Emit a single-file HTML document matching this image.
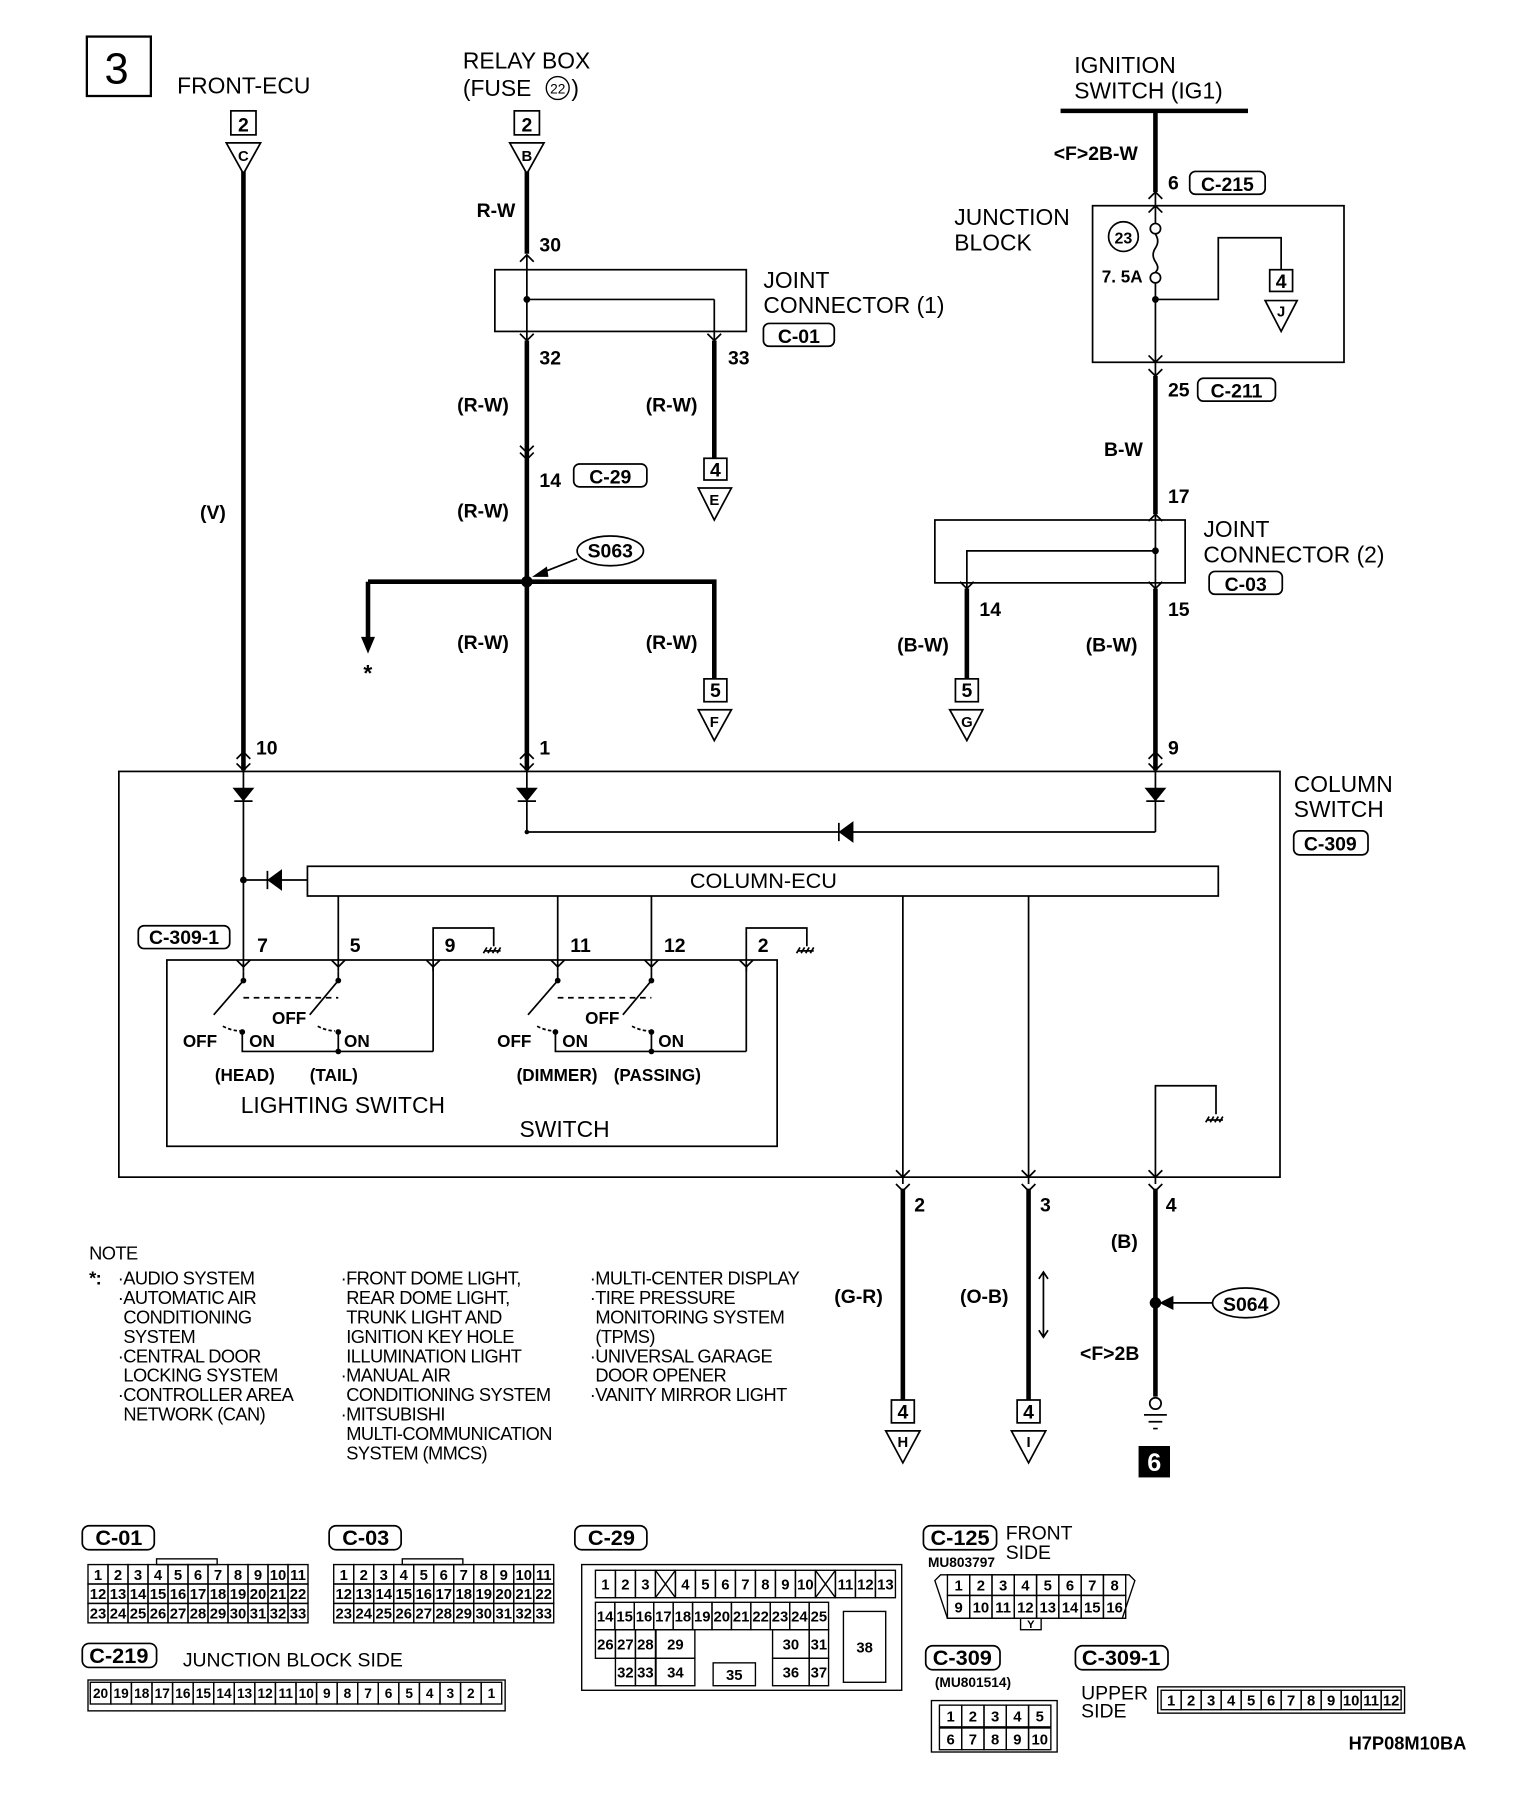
<!DOCTYPE html>
<html><head><meta charset="utf-8">
<style>
html,body{margin:0;padding:0;background:#fff;}
svg{display:block;}
text{font-family:"Liberation Sans",sans-serif;fill:#000;}
.b{font-weight:bold;}
.n{font-family:"Liberation Sans Narrow","Liberation Sans",sans-serif;font-weight:bold;}
</style></head><body>
<svg id="s" xmlns="http://www.w3.org/2000/svg" width="1520" height="1798" viewBox="0 0 1330 1573.25">
<g stroke="#000" fill="none" stroke-width="1.5">
<rect x="76" y="32" width="56" height="52" stroke-width="2"/>
<rect x="202" y="97" width="22" height="21"/>
<polygon points="198,125 228,125 213,152"/>
<line x1="213" y1="150" x2="213" y2="674" stroke-width="4"/>
<rect x="450" y="97" width="22" height="21"/>
<polygon points="446,125 476,125 461,152"/>
<line x1="461" y1="150" x2="461" y2="222" stroke-width="4"/>
<polyline points="455,229 461,223 467,229"/>
<line x1="461" y1="223" x2="461" y2="298"/>
<rect x="433" y="236" width="220" height="54"/>
<line x1="461" y1="262" x2="625" y2="262"/><line x1="625" y1="262" x2="625" y2="298"/>
<polyline points="455,292 461,298 467,292"/><polyline points="619,292 625,298 631,292"/>
<line x1="461" y1="298" x2="461" y2="674" stroke-width="4"/>
<line x1="625" y1="298" x2="625" y2="401" stroke-width="4"/>
<polyline points="455,390 461,396 467,390"/><polyline points="455,396 461,402 467,396"/>
<rect x="616" y="401" width="20" height="19"/>
<polygon points="611,427 640,427 625,455"/>
<path d="M322,509 H625 V594" stroke-width="4"/>
<line x1="322" y1="509" x2="322" y2="560" stroke-width="4"/>
<polygon points="317,558 327,558 322,570" fill="#000"/>
<rect x="616" y="594" width="20" height="20"/>
<polygon points="611,621 640,621 625,648"/>
<ellipse cx="534" cy="482" rx="29" ry="13"/>
<line x1="505" y1="489" x2="472" y2="502"/>
<polygon points="468,504 478,497 479,504" fill="#000"/>
<line x1="928" y1="97" x2="1092" y2="97" stroke-width="4"/>
<line x1="1011" y1="97" x2="1011" y2="168" stroke-width="4"/>
<polyline points="1005,174 1011,168 1017,174"/><polyline points="1005,186 1011,180 1017,186"/>
<line x1="1011" y1="168" x2="1011" y2="196"/>
<rect x="956" y="180" width="220" height="137"/>
<circle cx="1011" cy="200" r="4.5"/><circle cx="1011" cy="243" r="4.5"/>
<path d="M1011,205 q4,6 0,12 q-4,6 0,12 q4,6 0,9"/>
<line x1="1011" y1="248" x2="1011" y2="336"/>
<path d="M1011,262 H1066 V208 H1121 V236"/>
<rect x="1111" y="236" width="20" height="19"/>
<polygon points="1107,263 1135,263 1121,290"/>
<circle cx="983" cy="207" r="13"/>
<polyline points="1005,311 1011,317 1017,311"/><polyline points="1005,323 1011,329 1017,323"/>
<line x1="1011" y1="329" x2="1011" y2="450" stroke-width="4"/>
<polyline points="1005,456 1011,450 1017,456"/>
<line x1="1011" y1="450" x2="1011" y2="515"/>
<rect x="818" y="455" width="219" height="55"/>
<path d="M1011,482 H846 V515"/>
<polyline points="840,509 846,515 852,509"/><polyline points="1005,509 1011,515 1017,509"/>
<line x1="846" y1="515" x2="846" y2="594" stroke-width="4"/>
<rect x="836" y="594" width="20" height="20"/>
<polygon points="831,621 860,621 846,648"/>
<line x1="1011" y1="515" x2="1011" y2="674" stroke-width="4"/>
<polyline points="207,664 213,658 219,664"/><polyline points="455,664 461,658 467,664"/><polyline points="1005,664 1011,658 1017,664"/>
<rect x="104" y="675" width="1016" height="355"/>
<polyline points="207,668 213,674 219,668"/><polyline points="455,668 461,674 467,668"/><polyline points="1005,668 1011,674 1017,668"/>
<line x1="213" y1="674" x2="213" y2="850"/>
<line x1="461" y1="674" x2="461" y2="728"/>
<line x1="1011" y1="674" x2="1011" y2="728"/>
<polygon points="205,690 221,690 213,700" fill="#000"/><line x1="205" y1="701" x2="221" y2="701"/>
<polygon points="453,690 469,690 461,700" fill="#000"/><line x1="453" y1="701" x2="469" y2="701"/>
<polygon points="1003,690 1019,690 1011,700" fill="#000"/><line x1="1003" y1="701" x2="1019" y2="701"/>
<line x1="461" y1="728" x2="1011" y2="728"/>
<polygon points="746,720 746,736 735,728" fill="#000"/><line x1="734" y1="720" x2="734" y2="736"/>
<rect x="269" y="758" width="797" height="26"/>
<line x1="213" y1="770" x2="269" y2="770"/>
<polygon points="246,762 246,778 235,770" fill="#000"/><line x1="234" y1="762" x2="234" y2="778"/>
<line x1="296" y1="784" x2="296" y2="850"/>
<line x1="488" y1="784" x2="488" y2="850"/>
<line x1="570" y1="784" x2="570" y2="850"/>
<line x1="790" y1="784" x2="790" y2="1036"/>
<line x1="900" y1="784" x2="900" y2="1036"/>
<rect x="121" y="810" width="80" height="20" rx="5"/>
<path d="M379,850 V812 H432 V828"/><path d="M653,850 V812 H706 V828"/>
<path d="M424,832 h14 M426,829 l-3,5 M430,829 l-3,5 M434,829 l-3,5 M438,829 l-3,5"/>
<path d="M698,832 h14 M700,829 l-3,5 M704,829 l-3,5 M708,829 l-3,5 M712,829 l-3,5"/>
<rect x="146" y="840" width="534" height="163"/>
<polyline points="207,840 213,846 219,840"/><polyline points="290,840 296,846 302,840"/><polyline points="373,840 379,846 385,840"/>
<polyline points="482,840 488,846 494,840"/><polyline points="564,840 570,846 576,840"/><polyline points="647,840 653,846 659,840"/>
<line x1="379" y1="846" x2="379" y2="920"/><line x1="653" y1="846" x2="653" y2="920"/>
<line x1="213" y1="850" x2="213" y2="858"/><line x1="296" y1="850" x2="296" y2="858"/>
<line x1="488" y1="850" x2="488" y2="858"/><line x1="570" y1="850" x2="570" y2="858"/>
<line x1="213" y1="858" x2="187" y2="888"/><line x1="296" y1="858" x2="271" y2="888"/>
<line x1="488" y1="858" x2="462" y2="888"/><line x1="570" y1="858" x2="545" y2="888"/>
<line x1="213" y1="873" x2="296" y2="873" stroke-dasharray="5,4"/>
<line x1="488" y1="873" x2="570" y2="873" stroke-dasharray="5,4"/>
<path d="M212,903 V920 H379 M296,903 V920 M570,903 V920 M486,903 V920 H653" />
<path d="M195,898 q8,4 15,4 M278,898 q8,4 15,4 M470,898 q8,4 15,4 M553,898 q8,4 15,4" stroke-dasharray="3,2"/>
<g fill="#000" stroke="none">
<circle cx="213" cy="858" r="2.5"/><circle cx="296" cy="858" r="2.5"/><circle cx="488" cy="858" r="2.5"/><circle cx="570" cy="858" r="2.5"/>
<circle cx="212" cy="903" r="2.5"/><circle cx="296" cy="903" r="2.5"/><circle cx="486" cy="903" r="2.5"/><circle cx="570" cy="903" r="2.5"/>
<circle cx="296" cy="920" r="2.5"/><circle cx="570" cy="920" r="2.5"/>
<circle cx="461" cy="262" r="3"/><circle cx="461" cy="509" r="5"/><circle cx="1011" cy="262" r="3"/><circle cx="1011" cy="482" r="3"/>
<circle cx="213" cy="770" r="3"/><circle cx="461" cy="728" r="2"/><circle cx="1011" cy="1140" r="5"/>
</g>
<path d="M1011,1036 V950 H1064 V975"/>
<path d="M1056,980 h14 M1058,977 l-3,5 M1062,977 l-3,5 M1066,977 l-3,5 M1070,977 l-3,5"/>
<polyline points="784,1024 790,1030 796,1024"/><polyline points="894,1024 900,1030 906,1024"/><polyline points="1005,1024 1011,1030 1017,1024"/>
<polyline points="784,1036 790,1042 796,1036"/><polyline points="894,1036 900,1042 906,1036"/><polyline points="1005,1036 1011,1042 1017,1036"/>
<line x1="790" y1="1040" x2="790" y2="1225" stroke-width="4"/>
<line x1="900" y1="1040" x2="900" y2="1225" stroke-width="4"/>
<line x1="1011" y1="1040" x2="1011" y2="1222" stroke-width="4"/>
<rect x="780" y="1225" width="20" height="20"/><polygon points="775,1252 805,1252 790,1280"/>
<rect x="890" y="1225" width="20" height="20"/><polygon points="885,1252 915,1252 900,1280"/>
<path d="M913,1113 V1170 M909,1119 l4,-6 l4,6 M909,1164 l4,6 l4,-6"/>
<ellipse cx="1090" cy="1140" rx="29" ry="13"/>
<line x1="1061" y1="1140" x2="1022" y2="1140"/><polygon points="1016,1140 1026,1135 1026,1145" fill="#000"/>
<circle cx="1011" cy="1228" r="5"/>
<path d="M1001,1238 h20 M1005,1244 h12 M1009,1250 h4"/>
<rect x="997" y="1266" width="26" height="26" fill="#000"/>
<rect x="72" y="1335" width="63" height="21" rx="6"/>
<rect x="288" y="1335" width="63" height="21" rx="6"/>
<rect x="503" y="1335" width="63" height="21" rx="6"/>
<rect x="72" y="1438" width="65" height="21" rx="6"/>
<rect x="808" y="1335" width="64" height="21" rx="6"/>
<rect x="810" y="1440" width="65" height="21" rx="6"/>
<rect x="941" y="1440" width="81" height="21" rx="6"/>
<rect x="668" y="283" width="62" height="20" rx="5"/>
<rect x="1041" y="150" width="66" height="20" rx="5"/>
<rect x="1048" y="331" width="68" height="20" rx="5"/>
<rect x="1058" y="500" width="64" height="20" rx="5"/>
<rect x="502" y="406" width="64" height="20" rx="5"/>
<rect x="1132" y="727" width="65" height="21" rx="5"/>
</g>
<g id="grids" stroke="#000" fill="none" stroke-width="1.2"></g>
<g>
<text x="102" y="73" font-size="38" text-anchor="middle">3</text>
<text x="155" y="82" font-size="20">FRONT-ECU</text>
<text x="405" y="60" font-size="20">RELAY BOX</text>
<text x="405" y="84" font-size="20">(FUSE</text>
<circle cx="488" cy="77" r="10" fill="none" stroke="#000" stroke-width="1.2"/>
<text x="488" y="82" font-size="12" text-anchor="middle">22</text>
<text x="500" y="84" font-size="20">)</text>
<text x="940" y="64" font-size="20">IGNITION</text>
<text x="940" y="86" font-size="20">SWITCH (IG1)</text>
<g class="n" font-size="17">
<text x="213" y="115" text-anchor="middle" class="n">2</text>
<text x="213" y="141" text-anchor="middle" font-size="13" class="n">C</text>
<text x="461" y="115" text-anchor="middle" class="n">2</text>
<text x="461" y="141" text-anchor="middle" font-size="13" class="n">B</text>
<text x="417" y="190" class="n">R-W</text>
<text x="472" y="220" class="n">30</text>
<text x="472" y="319" class="n">32</text>
<text x="637" y="319" class="n">33</text>
<text x="400" y="360" class="n">(R-W)</text>
<text x="565" y="360" class="n">(R-W)</text>
<text x="472" y="426" class="n">14</text>
<text x="534" y="423" text-anchor="middle" class="n">C-29</text>
<text x="626" y="417" text-anchor="middle" class="n">4</text>
<text x="625" y="442" text-anchor="middle" font-size="13" class="n">E</text>
<text x="175" y="454" class="n">(V)</text>
<text x="400" y="453" class="n">(R-W)</text>
<text x="534" y="488" text-anchor="middle" class="n">S063</text>
<text x="318" y="596" font-size="20" class="n">*</text>
<text x="400" y="568" class="n">(R-W)</text>
<text x="565" y="568" class="n">(R-W)</text>
<text x="626" y="610" text-anchor="middle" class="n">5</text>
<text x="625" y="636" text-anchor="middle" font-size="13" class="n">F</text>
<text x="224" y="660" class="n">10</text>
<text x="472" y="660" class="n">1</text>
<text x="922" y="140" class="n">&lt;F&gt;2B-W</text>
<text x="1022" y="166" class="n">6</text>
<text x="1074" y="167" text-anchor="middle" class="n">C-215</text>
<text x="983" y="213" font-size="14" text-anchor="middle" class="n">23</text>
<text x="964" y="247" font-size="15" class="n">7. 5A</text>
<text x="1121" y="252" text-anchor="middle" class="n">4</text>
<text x="1121" y="277" text-anchor="middle" font-size="13" class="n">J</text>
<text x="1022" y="347" class="n">25</text>
<text x="1082" y="348" text-anchor="middle" class="n">C-211</text>
<text x="966" y="399" class="n">B-W</text>
<text x="1022" y="440" class="n">17</text>
<text x="1090" y="517" text-anchor="middle" class="n">C-03</text>
<text x="699" y="300" text-anchor="middle" class="n">C-01</text>
<text x="857" y="539" class="n">14</text>
<text x="1022" y="539" class="n">15</text>
<text x="785" y="570" class="n">(B-W)</text>
<text x="950" y="570" class="n">(B-W)</text>
<text x="846" y="610" text-anchor="middle" class="n">5</text>
<text x="846" y="636" text-anchor="middle" font-size="13" class="n">G</text>
<text x="1022" y="660" class="n">9</text>
<text x="1164" y="744" text-anchor="middle" class="n">C-309</text>
<text x="161" y="826" text-anchor="middle" class="n">C-309-1</text>
<text x="225" y="833" class="n">7</text>
<text x="306" y="833" class="n">5</text>
<text x="389" y="833" class="n">9</text>
<text x="499" y="833" class="n">11</text>
<text x="581" y="833" class="n">12</text>
<text x="663" y="833" class="n">2</text>
<text x="160" y="916" font-size="15" class="n">OFF</text>
<text x="218" y="916" font-size="15" class="n">ON</text>
<text x="238" y="896" font-size="15" class="n">OFF</text>
<text x="301" y="916" font-size="15" class="n">ON</text>
<text x="435" y="916" font-size="15" class="n">OFF</text>
<text x="492" y="916" font-size="15" class="n">ON</text>
<text x="512" y="896" font-size="15" class="n">OFF</text>
<text x="576" y="916" font-size="15" class="n">ON</text>
<text x="188" y="946" font-size="15" class="n">(HEAD)</text>
<text x="271" y="946" font-size="15" class="n">(TAIL)</text>
<text x="452" y="946" font-size="15" class="n">(DIMMER)</text>
<text x="537" y="946" font-size="15" class="n">(PASSING)</text>
<text x="800" y="1060" class="n">2</text>
<text x="910" y="1060" class="n">3</text>
<text x="1020" y="1060" class="n">4</text>
<text x="972" y="1092" class="n">(B)</text>
<text x="730" y="1140" class="n">(G-R)</text>
<text x="840" y="1140" class="n">(O-B)</text>
<text x="1090" y="1147" text-anchor="middle" class="n">S064</text>
<text x="945" y="1190" class="n">&lt;F&gt;2B</text>
<text x="790" y="1241" text-anchor="middle" class="n">4</text>
<text x="790" y="1266" text-anchor="middle" font-size="13" class="n">H</text>
<text x="900" y="1241" text-anchor="middle" class="n">4</text>
<text x="900" y="1266" text-anchor="middle" font-size="13" class="n">I</text>
<text x="1010" y="1287" text-anchor="middle" font-size="22" style="fill:#fff" class="n">6</text>
<text x="104" y="1352" text-anchor="middle" font-size="19" class="n">C-01</text>
<text x="320" y="1352" text-anchor="middle" font-size="19" class="n">C-03</text>
<text x="535" y="1352" text-anchor="middle" font-size="19" class="n">C-29</text>
<text x="104" y="1455" text-anchor="middle" font-size="19" class="n">C-219</text>
<text x="840" y="1352" text-anchor="middle" font-size="19" class="n">C-125</text>
<text x="842" y="1457" text-anchor="middle" font-size="19" class="n">C-309</text>
<text x="981" y="1457" text-anchor="middle" font-size="19" class="n">C-309-1</text>
<text x="812" y="1371" font-size="12" class="n">MU803797</text>
<text x="818" y="1476" font-size="12" class="n">(MU801514)</text>
<text x="1180" y="1531" font-size="16" class="n">H7P08M10BA</text>
</g>
<text x="835" y="197" font-size="20">JUNCTION</text>
<text x="835" y="219" font-size="20">BLOCK</text>
<text x="668" y="252" font-size="20">JOINT</text>
<text x="668" y="274" font-size="20">CONNECTOR (1)</text>
<text x="1053" y="470" font-size="20">JOINT</text>
<text x="1053" y="492" font-size="20">CONNECTOR (2)</text>
<text x="1132" y="693" font-size="20">COLUMN</text>
<text x="1132" y="715" font-size="20">SWITCH</text>
<text x="668" y="777" font-size="19" text-anchor="middle">COLUMN-ECU</text>
<text x="300" y="974" font-size="20" text-anchor="middle">LIGHTING SWITCH</text>
<text x="494" y="995" font-size="20" text-anchor="middle">SWITCH</text>
<g font-size="16" letter-spacing="-0.5">
<text x="78" y="1102">NOTE</text>
<text x="78" y="1124" font-weight="bold">*:</text>
<text x="103" y="1124">·AUDIO SYSTEM</text>
<text x="103" y="1141">·AUTOMATIC AIR</text>
<text x="108" y="1158">CONDITIONING</text>
<text x="108" y="1175">SYSTEM</text>
<text x="103" y="1192">·CENTRAL DOOR</text>
<text x="108" y="1209">LOCKING SYSTEM</text>
<text x="103" y="1226">·CONTROLLER AREA</text>
<text x="108" y="1243">NETWORK (CAN)</text>
<text x="298" y="1124">·FRONT DOME LIGHT,</text>
<text x="303" y="1141">REAR DOME LIGHT,</text>
<text x="303" y="1158">TRUNK LIGHT AND</text>
<text x="303" y="1175">IGNITION KEY HOLE</text>
<text x="303" y="1192">ILLUMINATION LIGHT</text>
<text x="298" y="1209">·MANUAL AIR</text>
<text x="303" y="1226">CONDITIONING SYSTEM</text>
<text x="298" y="1243">·MITSUBISHI</text>
<text x="303" y="1260">MULTI-COMMUNICATION</text>
<text x="303" y="1277">SYSTEM (MMCS)</text>
<text x="516" y="1124">·MULTI-CENTER DISPLAY</text>
<text x="516" y="1141">·TIRE PRESSURE</text>
<text x="521" y="1158">MONITORING SYSTEM</text>
<text x="521" y="1175">(TPMS)</text>
<text x="516" y="1192">·UNIVERSAL GARAGE</text>
<text x="521" y="1209">DOOR OPENER</text>
<text x="516" y="1226">·VANITY MIRROR LIGHT</text>
</g>
<text x="160" y="1458" font-size="17">JUNCTION BLOCK SIDE</text>
<text x="880" y="1347" font-size="17">FRONT</text>
<text x="880" y="1364" font-size="17">SIDE</text>
<text x="946" y="1487" font-size="17">UPPER</text>
<text x="946" y="1503" font-size="17">SIDE</text>
</svg>
<script>
(function(){
var g=document.getElementById('grids'),NS='http://www.w3.org/2000/svg';
function r(x,y,w,h,t,fs){var e=document.createElementNS(NS,'rect');e.setAttribute('x',x);e.setAttribute('y',y);e.setAttribute('width',w);e.setAttribute('height',h);g.appendChild(e);
 if(t!==undefined&&t!==''){var s=document.createElementNS(NS,'text');s.setAttribute('x',x+w/2);s.setAttribute('y',y+h/2+(fs||13)*0.37);s.setAttribute('text-anchor','middle');s.setAttribute('font-size',fs||13);s.setAttribute('class','n');s.setAttribute('stroke','none');s.textContent=t;g.appendChild(s);}}
function grid(x0,y0){var w=17.5,h=17;r(x0+60,y0-5,53,5);for(var row=0;row<3;row++)for(var c=0;c<11;c++)r(x0+c*w,y0+row*h,w,h,String(row*11+c+1));}
grid(77,1369);grid(292,1369);
r(77,1470,365,27);for(var i=0;i<20;i++)r(79+i*18,1472,18,19,String(20-i),12);
r(1013,1476,216,23);for(i=0;i<12;i++)r(1016+i*17.5,1479,17.5,17,String(i+1),13);
var p=document.createElementNS(NS,'path');p.setAttribute('d','M818,1383 L823,1378 H988 L993,1383 L982,1416 H829 Z');g.appendChild(p);
for(i=0;i<8;i++){r(829+i*19.5,1378,19.5,18,String(i+1));r(829+i*19.5,1396,19.5,20,String(i+9));}
r(893,1416,18,10,'Y',10);
r(815,1488,110,45);for(i=0;i<5;i++){r(822+i*19.5,1492,19.5,19,String(i+1));r(822+i*19.5,1512,19.5,19,String(i+6));}
// C-29
r(509,1369,280,110);
var top=['1','2','3','X','4','5','6','7','8','9','10','X','11','12','13'];
var x=521,cw=17.5;
for(i=0;i<15;i++){r(x,1374,cw,24,top[i]==='X'?'':top[i]);if(top[i]==='X'){var l=document.createElementNS(NS,'path');l.setAttribute('d','M'+x+',1374 l'+cw+',24 M'+(x+cw)+',1374 l-'+cw+',24');g.appendChild(l);}x+=cw;}
for(i=0;i<12;i++)r(521+i*17,1402,17,24,String(14+i));
r(521,1426,17.5,25,'26');r(538.5,1426,17.5,25,'27');r(556,1426,17.5,25,'28');r(574,1426,34,25,'29');
r(676,1426,32,25,'30');r(708,1426,17,25,'31');
r(538.5,1451,17.5,24,'32');r(556,1451,17.5,24,'33');r(574,1451,34,24,'34');r(624,1455,37,20,'35');r(676,1451,32,24,'36');r(708,1451,17,24,'37');
r(738,1410,37,62,'38');
})();
</script>
</body></html>
